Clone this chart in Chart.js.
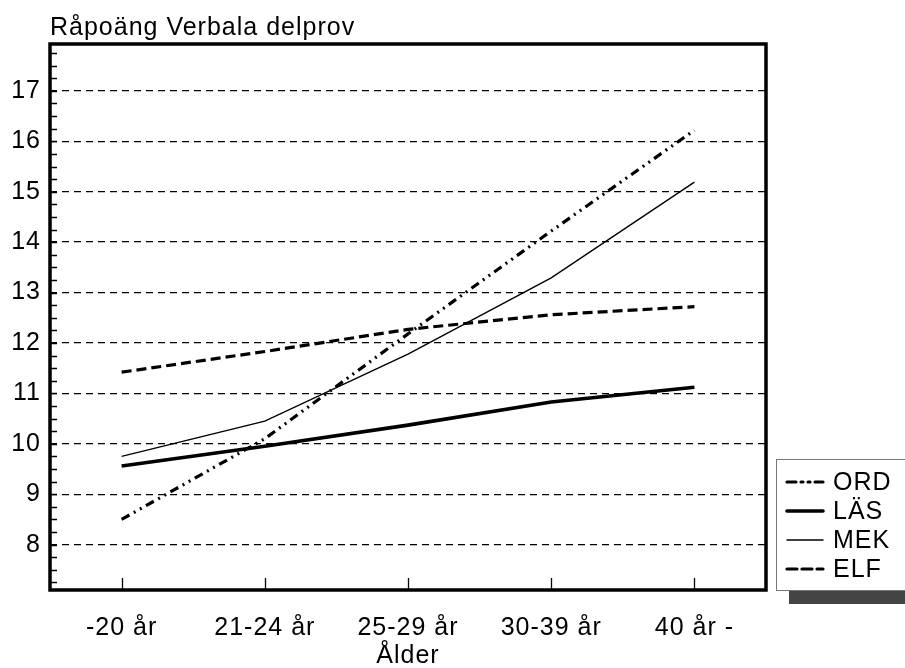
<!DOCTYPE html>
<html>
<head>
<meta charset="utf-8">
<script src="https://cdn.jsdelivr.net/npm/chart.js@4/dist/chart.umd.min.js"></script>
<style>
  body { margin: 0; background: #fff; }
  #wrap { width: 905px; height: 668px; position: relative; }
</style>
</head>
<body>
<div id="wrap"><canvas id="chart"></canvas></div>
<script>
// age groups on the x axis
const ageLabels = ["-20 år", "21-24 år", "25-29 år", "30-39 år", "40 år -"];

// raw scores per subtest
const ordValues = [8.5, 10.1, 12.18, 14.22, 16.22];
const lasValues = [9.56, 9.95, 10.37, 10.83, 11.12];
const mekValues = [9.75, 10.45, 11.78, 13.29, 15.19];
const elfValues = [11.42, 11.83, 12.27, 12.56, 12.72];

const yTicks = [8, 9, 10, 11, 12, 13, 14, 15, 16, 17];

const FONT = "'Liberation Sans', Arial, sans-serif";

// the original font runs a little wider than Liberation Sans
const spacingPlugin = {
  id: "spacing",
  beforeLayout(chart) { chart.ctx.letterSpacing = "1px"; },
  beforeDraw(chart) { chart.ctx.letterSpacing = "1px"; },
};

// frame, minor ticks, title and the legend box
const framePlugin = {
  id: "frame",
  afterDraw(chart) {
    const ctx = chart.ctx;
    const area = chart.chartArea;
    const y = chart.scales.y;
    const x = chart.scales.x;
    ctx.save();
    ctx.strokeStyle = "#000";

    // minor ticks every 0.25 on the left axis, pointing inward
    ctx.lineWidth = 1.3;
    ctx.beginPath();
    for (let v = 7.25; v <= 17.9; v += 0.25) {
      const py = Math.round(y.getPixelForValue(v)) + 0.5;
      ctx.moveTo(area.left, py);
      ctx.lineTo(area.left + 7, py);
    }
    ctx.stroke();

    // category ticks on the bottom axis
    ctx.beginPath();
    ageLabels.forEach((l, i) => {
      const px = Math.round(x.getPixelForValue(i)) + 0.5;
      ctx.moveTo(px, area.bottom);
      ctx.lineTo(px, area.bottom - 12);
    });
    ctx.stroke();

    // thick frame
    ctx.lineWidth = 3.5;
    ctx.strokeRect(area.left, area.top, area.right - area.left, area.bottom - area.top);

    // title
    ctx.fillStyle = "#000";
    ctx.font = "25px " + FONT;
    ctx.textAlign = "left";
    ctx.textBaseline = "alphabetic";
    ctx.fillText("Råpoäng Verbala delprov", area.left, 35);

    // legend with shadow
    const lx = 776, ly = 459, lw = 140, lh = 131;
    ctx.fillStyle = "#444";
    ctx.fillRect(lx + 13, ly + lh, lw, 14);
    ctx.fillStyle = "#fff";
    ctx.fillRect(lx, ly, lw, lh);
    ctx.lineWidth = 1;
    ctx.strokeStyle = "#777";
    ctx.strokeRect(lx + 0.5, ly + 0.5, lw, lh);

    ctx.font = "25px " + FONT;
    ctx.textBaseline = "middle";
    chart.data.datasets.forEach((ds, i) => {
      const cy = 482 + i * 29;
      ctx.save();
      ctx.strokeStyle = "#000";
      ctx.lineWidth = ds.borderWidth;
      ctx.setLineDash(ds.borderDash || []);
      ctx.lineCap = "round";
      ctx.beginPath();
      ctx.moveTo(787, cy);
      ctx.lineTo(823, cy);
      ctx.stroke();
      ctx.restore();
      ctx.fillStyle = "#000";
      ctx.fillText(ds.label, 833, cy + 1);
    });
    ctx.restore();
  }
};

new Chart(document.getElementById("chart"), {
  type: "line",
  data: {
    labels: ageLabels,
    datasets: [
      {
        label: "ORD",
        data: ordValues,
        borderColor: "#000",
        borderWidth: 3.2,
        borderDash: [9, 5, 2, 5, 2, 5],
        pointRadius: 0,
      },
      {
        label: "LÄS",
        data: lasValues,
        borderColor: "#000",
        borderWidth: 3.6,
        pointRadius: 0,
      },
      {
        label: "MEK",
        data: mekValues,
        borderColor: "#000",
        borderWidth: 1.4,
        pointRadius: 0,
      },
      {
        label: "ELF",
        data: elfValues,
        borderColor: "#000",
        borderWidth: 3.2,
        borderDash: [10, 5],
        pointRadius: 0,
      },
    ],
  },
  options: {
    responsive: true,
    maintainAspectRatio: false,
    animation: false,
    layout: {
      padding: { top: 44, right: 139, left: 0, bottom: 0 },
    },
    scales: {
      x: {
        type: "category",
        offset: true,
        grid: { display: false, drawTicks: false },
        border: { display: false },
        ticks: {
          color: "#000",
          font: { family: FONT, size: 25 },
          padding: 23,
          maxRotation: 0,
          autoSkip: false,
        },
        title: {
          display: true,
          text: "Ålder",
          color: "#000",
          font: { family: FONT, size: 25 },
          padding: { top: 0, bottom: -3 },
        },
        afterFit: (scale) => { scale.height = 78; },
      },
      y: {
        min: 7.1,
        max: 17.93,
        grid: {
          color: "#000",
          lineWidth: 1.3,
          drawTicks: false,
        },
        border: { display: false, dash: [7, 5] },
        ticks: {
          color: "#000",
          font: { family: FONT, size: 25 },
          padding: 9,
        },
        afterBuildTicks: (scale) => {
          scale.ticks = yTicks.map((v) => ({ value: v }));
        },
        afterFit: (scale) => { scale.width = 50; },
      },
    },
    plugins: {
      legend: { display: false },
      tooltip: { enabled: false },
    },
  },
  plugins: [spacingPlugin, framePlugin],
});
</script>
</body>
</html>
